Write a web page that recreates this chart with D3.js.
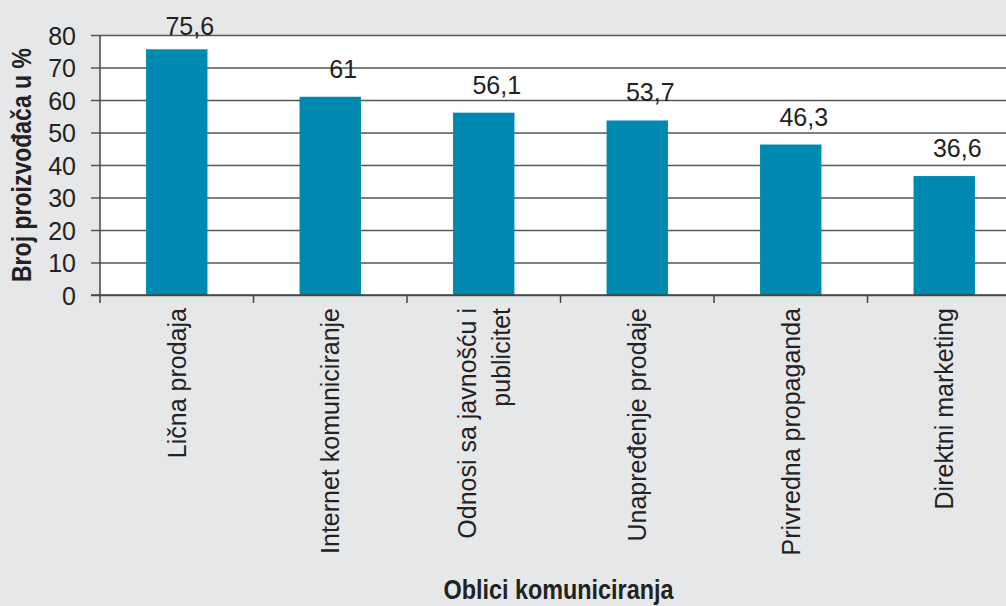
<!DOCTYPE html>
<html>
<head>
<meta charset="utf-8">
<script src="https://cdn.jsdelivr.net/npm/d3@7"></script>
<style>
  body { margin: 0; background: #e6e7e9; }
  svg { display: block; }
</style>
</head>
<body>
<svg class="chart"></svg>
<script>
var categories = [
    ["Lična prodaja"],
    ["Internet komuniciranje"],
    ["Odnosi sa javnošću i", "publicitet"],
    ["Unapređenje prodaje"],
    ["Privredna propaganda"],
    ["Direktni marketing"]
];
var values = [75.6, 61, 56.1, 53.7, 46.3, 36.6];
var valueLabels = ["75,6", "61", "56,1", "53,7", "46,3", "36,6"];
var yTicks = [0, 10, 20, 30, 40, 50, 60, 70, 80];

var width = 1006, height = 606;
var plotLeft = 100, plotTop = 35, plotBottom = 295, plotRight = 1021;

var svg = d3.select(".chart")
    .attr("width", width)
    .attr("height", height);

var x = d3.scaleBand()
    .domain(d3.range(values.length))
    .range([plotLeft, plotRight])
    .paddingInner(0.6)
    .paddingOuter(0.3);

var y = d3.scaleLinear()
    .domain([0, 80])
    .range([plotBottom, plotTop]);

var step = x.step();

// plot background
svg.append("rect")
    .attr("x", plotLeft).attr("y", plotTop)
    .attr("width", plotRight - plotLeft).attr("height", plotBottom - plotTop)
    .attr("fill", "#fff");

// Y-Axis with gridlines
var yAxis = d3.axisLeft(y)
    .tickValues(yTicks)
    .tickSize(-(plotRight - plotLeft))
    .tickFormat(function(d) { return d; });

svg.append("g")
    .attr("transform", "translate(" + plotLeft + ",0)")
    .call(function(g) {
        g.call(yAxis);
        g.select(".domain").remove();
        g.selectAll(".tick line")
            .attr("x1", -9)
            .attr("stroke", "#555")
            .attr("stroke-width", 1.5);
        g.selectAll(".tick text")
            .attr("x", -24)
            .attr("dy", "0.36em")
            .attr("fill", "#222")
            .style("font-family", "'Liberation Sans', Arial, sans-serif")
            .style("font-size", "25px");
    });

// bars
svg.append("g")
    .selectAll("rect")
    .data(values)
    .enter().append("rect")
    .attr("x", function(d, i) { return x(i); })
    .attr("y", function(d) { return y(d); })
    .attr("width", x.bandwidth())
    .attr("height", function(d) { return plotBottom - y(d); })
    .attr("fill", "#0089b0");

// value labels
svg.append("g")
    .selectAll("text")
    .data(values)
    .enter().append("text")
    .attr("x", function(d, i) { return x(i) + x.bandwidth() / 2 + 13; })
    .attr("y", function(d) { return Math.max(35, y(d) - 19); })
    .attr("text-anchor", "middle")
    .attr("fill", "#222")
    .style("font-family", "'Liberation Sans', Arial, sans-serif")
    .style("font-size", "25px")
    .text(function(d, i) { return valueLabels[i]; });

// axis lines
svg.append("line")
    .attr("x1", plotLeft).attr("x2", plotLeft)
    .attr("y1", plotTop).attr("y2", plotBottom)
    .attr("stroke", "#444").attr("stroke-width", 1.5);

svg.append("line")
    .attr("x1", plotLeft - 9).attr("x2", plotRight)
    .attr("y1", plotBottom).attr("y2", plotBottom)
    .attr("stroke", "#444").attr("stroke-width", 1.5);

// x ticks at band boundaries
svg.append("g")
    .selectAll("line")
    .data(d3.range(values.length + 1))
    .enter().append("line")
    .attr("x1", function(i) { return plotLeft + i * step; })
    .attr("x2", function(i) { return plotLeft + i * step; })
    .attr("y1", plotBottom)
    .attr("y2", plotBottom + 8)
    .attr("stroke", "#444").attr("stroke-width", 1.5);

// category labels, rotated
var cat = svg.append("g")
    .selectAll("text")
    .data(categories)
    .enter().append("text")
    .attr("transform", function(d, i) {
        return "translate(" + (x(i) + x.bandwidth() / 2) + "," + (plotBottom + 13) + ") rotate(-90)";
    })
    .attr("text-anchor", "end")
    .attr("fill", "#222")
    .style("font-family", "'Liberation Sans', Arial, sans-serif")
    .style("font-size", "25px");

cat.selectAll("tspan")
    .data(function(d) { return d; })
    .enter().append("tspan")
    .attr("x", 0)
    .attr("y", function(d, j, nodes) {
        var n = nodes.length;
        return (j - (n - 1) / 2) * 34;
    })
    .attr("dy", "0.35em")
    .text(function(d) { return d; });

// axis titles (condensed bold)
svg.append("text")
    .attr("transform", "translate(31," + ((plotTop + plotBottom) / 2) + ") rotate(-90)")
    .attr("text-anchor", "middle")
    .attr("fill", "#222")
    .attr("textLength", 234)
    .attr("lengthAdjust", "spacingAndGlyphs")
    .style("font-family", "'Liberation Sans', Arial, sans-serif")
    .style("font-weight", "bold")
    .style("font-size", "27px")
    .text("Broj proizvođača u %");

svg.append("text")
    .attr("x", (plotLeft + plotRight) / 2 - 2)
    .attr("y", 599)
    .attr("text-anchor", "middle")
    .attr("fill", "#222")
    .attr("textLength", 230)
    .attr("lengthAdjust", "spacingAndGlyphs")
    .style("font-family", "'Liberation Sans', Arial, sans-serif")
    .style("font-weight", "bold")
    .style("font-size", "27px")
    .text("Oblici komuniciranja");
</script>
</body>
</html>
